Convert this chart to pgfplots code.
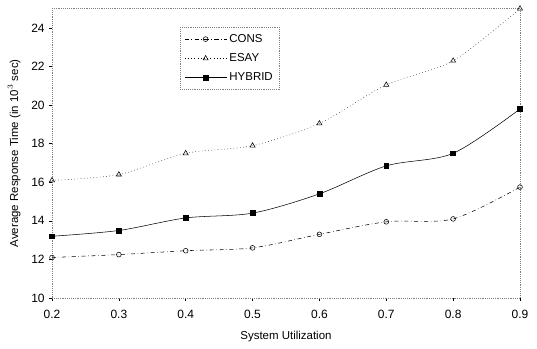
\documentclass[border=0pt]{standalone}
\usepackage{pgfplots}
\pgfplotsset{compat=1.18}
\usepackage{fontspec}
\setmainfont{Liberation Sans}
\begin{document}
\begin{tikzpicture}
\useasboundingbox (-39pt,-38.25pt) rectangle (363.75pt,223.5pt);
\begin{axis}[
  at={(0,0)}, anchor=south west,
  scale only axis, width=351pt, height=217pt,
  xmin=0.2, xmax=0.9, ymin=10, ymax=25,
  xtick={0.2,0.3,...,0.9},
  xticklabels={0.2,0.3,0.4,0.5,0.6,0.7,0.8,0.9},
  ytick={10,12,...,24},
  /pgf/number format/assume math mode=true,
  tick label style={font=\fontsize{9}{10}\selectfont},
  xticklabel style={yshift=-3.5pt},
  label style={font=\fontsize{8.6}{10}\selectfont},
  axis line style={densely dotted, gray},
  tick style={black, thin},
  tick align=outside, major tick length=2pt,
  xtick pos=bottom, ytick pos=left,
  xlabel={System Utilization},
  ylabel={Average Response Time (in 10$^3$ sec)},
  xlabel style={at={(axis description cs:0.5,-0.1348)}, anchor=center},
  ylabel style={at={(axis description cs:-0.081,0.5)}, anchor=center},
  legend style={at={(0.274,0.936)}, anchor=north west, draw=gray, densely dotted,
    font=\fontsize{8.6}{10}\selectfont, row sep=3pt, inner sep=3pt},
  legend cell align=left,
  legend image code/.code={\draw[mark repeat=2,mark phase=2] plot coordinates {(0cm,0cm)(0.55cm,0cm)(1.1cm,0cm)};},
]
\addplot[black, thin, dash dot, smooth, mark=o, mark size=1.8pt, mark options={solid}]
  coordinates {(0.2,12.1)(0.3,12.25)(0.4,12.45)(0.5,12.6)(0.6,13.3)(0.7,13.95)(0.8,14.1)(0.9,15.75)};
\addlegendentry{CONS}
\addplot[black, thin, dotted, smooth, mark=triangle, mark size=2.2pt, mark options={solid}]
  coordinates {(0.2,16.1)(0.3,16.4)(0.4,17.5)(0.5,17.9)(0.6,19.05)(0.7,21.05)(0.8,22.3)(0.9,25.0)};
\addlegendentry{ESAY}
\addplot[black, thin, solid, smooth, mark=square*, mark size=1.8pt]
  coordinates {(0.2,13.2)(0.3,13.5)(0.4,14.15)(0.5,14.4)(0.6,15.4)(0.7,16.85)(0.8,17.5)(0.9,19.8)};
\addlegendentry{HYBRID}
\end{axis}
\end{tikzpicture}
\end{document}
